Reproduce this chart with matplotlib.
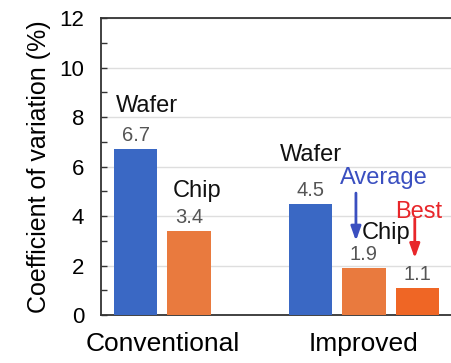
import matplotlib
matplotlib.use("Agg")
import matplotlib.pyplot as plt
from matplotlib.ticker import MultipleLocator

plt.rcParams['font.family'] = ['Liberation Sans', 'DejaVu Sans']

# Data
groups = ["Conventional", "Improved"]
bar_labels = ["Wafer", "Chip", "Wafer", "Chip (average)", "Chip (best)"]
values = [6.7, 3.4, 4.5, 1.9, 1.1]
value_text = ["6.7", "3.4", "4.5", "1.9", "1.1"]
yticks = [0, 2, 4, 6, 8, 10, 12]

# Layout
positions = [0.0, 1.0, 3.27, 4.27, 5.27]
group_centers = [0.5, 4.27]
colors = ["#3a68c4", "#e97a3e", "#3a68c4", "#e97a3e", "#ef6625"]
width = 0.82

fig = plt.figure(figsize=(4.51, 3.63), dpi=100)
ax = fig.add_axes([0.224, 0.132, 0.776, 0.818])

ax.bar(positions, values, width=width, color=colors, zorder=3)

ax.set_xlim(-0.645, 5.897)
ax.set_ylim(0, 12)
ax.set_yticks(yticks)
ax.yaxis.set_minor_locator(MultipleLocator(1))
ax.tick_params(axis='y', which='both', direction='in', length=4, width=1,
               color='#333333', labelsize=16, pad=12)
ax.tick_params(axis='x', length=0, labelsize=19, pad=12)
ax.set_xticks(group_centers)
ax.set_xticklabels(groups)

ax.grid(axis='y', color='#dedede', linewidth=1, zorder=0)
ax.set_axisbelow(True)

for side in ['left', 'bottom', 'top']:
    ax.spines[side].set_color('#333333')
    ax.spines[side].set_linewidth(1.3)
ax.spines['right'].set_visible(False)

ax.set_ylabel("Coefficient of variation (%)", fontsize=18, labelpad=6)

# Value labels above bars
for x, v, t in zip(positions, values, value_text):
    ax.text(x, v + 0.17, t, ha='center', va='bottom', fontsize=14.5, color='#555555')

# Category annotations
ann = dict(ha='center', va='center', fontsize=17)
ax.text(0.22, 8.45, "Wafer", color='#111111', **ann)
ax.text(1.15, 5.0, "Chip", color='#111111', **ann)
ax.text(3.27, 6.46, "Wafer", color='#111111', **ann)
ax.text(4.68, 3.3, "Chip", color='#111111', **ann)
ax.text(4.64, 5.55, "Average", color='#3a4fc0', **ann)
ax.text(5.29, 4.18, "Best", color='#e8262a', **ann)

# Arrows
ax.annotate("", xy=(4.12, 3.0), xytext=(4.12, 4.93),
            arrowprops=dict(arrowstyle='-|>,head_width=0.25,head_length=0.7',
                            color='#3a4fc0', lw=2, mutation_scale=12,
                            shrinkA=0, shrinkB=0))
ax.annotate("", xy=(5.22, 2.3), xytext=(5.22, 3.9),
            arrowprops=dict(arrowstyle='-|>,head_width=0.25,head_length=0.7',
                            color='#e8262a', lw=2, mutation_scale=12,
                            shrinkA=0, shrinkB=0))

fig.savefig("out.png", dpi=100)
